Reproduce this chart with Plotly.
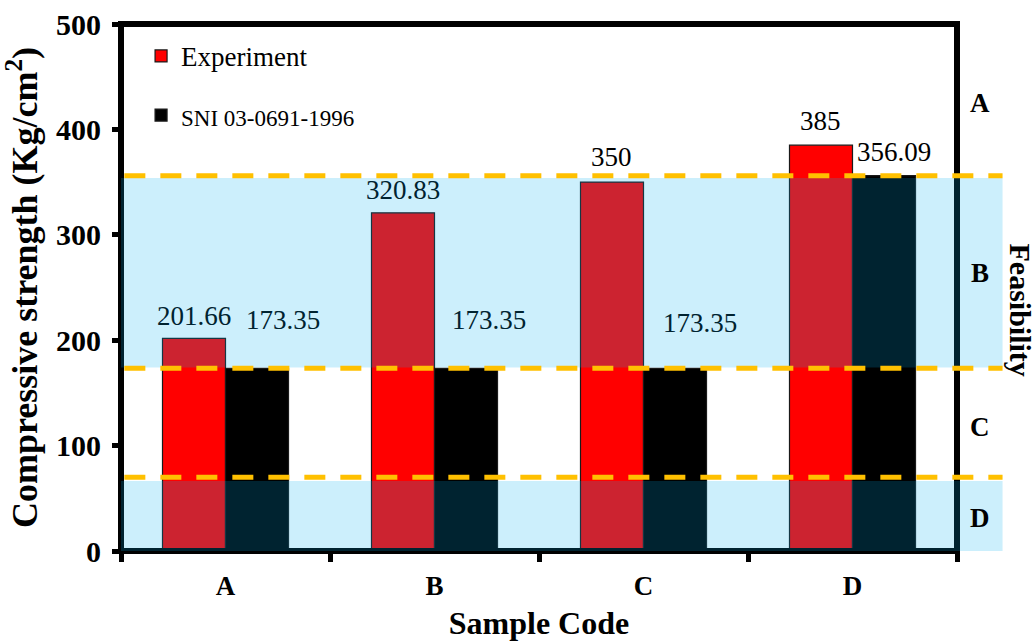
import plotly.graph_objects as go

# ---- data ----
categories = ["A", "B", "C", "D"]
experiment = [201.66, 320.83, 350, 385]
sni = [173.35, 173.35, 173.35, 356.09]
y_ticks = [0, 100, 200, 300, 400, 500]

# feasibility classes shown on the right-hand side
class_names = ["A", "B", "C", "D"]
class_label_y = [425, 264, 118, 31]
class_limits = [70, 173.35, 356.09]          # dashed class boundaries
shaded_lo = [0, 174]                          # shaded class bands (D, B)
shaded_hi = [66.5, 354]

# ---- styling ----
FONT = "Liberation Serif, Times New Roman, serif"
BAND_RGB = (0, 176, 240)
BAND_ALPHA = 0.2
BARGAP = 0.397
# value-label offsets (px): horizontal shift and height of label centre above bar top
exp_dx = [0, 0, 0, 0]
exp_dy = [22, 23, 25, 24]
sni_dx = [26, 23, 25, 10]
sni_dy = [48, 48, 45, 24]


def band_text_colour(v):
    """Text sitting under a shaded band picks up its tint."""
    for lo, hi in zip(shaded_lo, shaded_hi):
        if lo <= v <= hi:
            r, g, b = (int(round(c * BAND_ALPHA)) for c in BAND_RGB)
            return f"rgb({r},{g},{b})"
    return "#000000"


fig = go.Figure()
fig.add_trace(go.Bar(
    x=categories, y=experiment, name="Experiment", legendgroup="exp",
    marker=dict(color="#FF0000", line=dict(color="#1a1a1a", width=1.2)),
))
fig.add_trace(go.Bar(
    x=categories, y=sni, name="<span style='font-size:23px'>SNI 03-0691-1996</span>",
    legendgroup="sni",
    marker=dict(color="#000000", line=dict(color="#1a1a1a", width=1.2)),
))

shapes = []
# plot frame
shapes.append(dict(type="rect", xref="paper", yref="paper", x0=0, x1=1, y0=0, y1=1,
                   line=dict(color="black", width=6), layer="above"))
# shaded feasibility bands
for lo, hi in zip(shaded_lo, shaded_hi):
    shapes.append(dict(type="rect", xref="paper", yref="y", x0=0, x1=1.0545, y0=lo, y1=hi,
                       fillcolor=f"rgba({BAND_RGB[0]},{BAND_RGB[1]},{BAND_RGB[2]},{BAND_ALPHA})",
                       line=dict(width=0), layer="above"))
# dashed class limits
for v in class_limits:
    shapes.append(dict(type="line", xref="paper", yref="y", x0=0.004, x1=1.0545, y0=v, y1=v,
                       line=dict(color="#FFC000", width=5, dash="21px,15px"), layer="above"))

annotations = []
half = (1 - BARGAP) / 4.0
for i, v in enumerate(experiment):
    annotations.append(dict(x=i - half, y=v, xref="x", yref="y", text=f"{v:g}", showarrow=False,
                            xanchor="center", yanchor="middle", xshift=exp_dx[i], yshift=exp_dy[i],
                            font=dict(family=FONT, size=27,
                                      color=band_text_colour(v + exp_dy[i] / 1.054))))
for i, v in enumerate(sni):
    annotations.append(dict(x=i + half, y=v, xref="x", yref="y", text=f"{v:g}", showarrow=False,
                            xanchor="center", yanchor="middle", xshift=sni_dx[i], yshift=sni_dy[i],
                            font=dict(family=FONT, size=27,
                                      color=band_text_colour(v + sni_dy[i] / 1.054))))
for name, yv in zip(class_names, class_label_y):
    annotations.append(dict(x=1.0275, y=yv, xref="paper", yref="y", text=name, showarrow=False,
                            xanchor="center", yanchor="middle",
                            font=dict(family=FONT, size=27, color="black", weight="bold")))
annotations.append(dict(x=1.0755, y=0.458, xref="paper", yref="paper", text="Feasibility",
                        showarrow=False, textangle=90, xanchor="center", yanchor="middle",
                        font=dict(family=FONT, size=30, color="black", weight="bold")))

fig.update_layout(
    width=1036, height=641,
    margin=dict(l=121, r=79, t=24, b=90),
    paper_bgcolor="white", plot_bgcolor="white",
    barmode="group", bargap=BARGAP, bargroupgap=0,
    shapes=shapes, annotations=annotations,
    font=dict(family=FONT, color="black"),
    showlegend=True,
    legend=dict(x=0.024, y=0.985, xanchor="left", yanchor="top",
                bgcolor="rgba(0,0,0,0)", borderwidth=0,
                font=dict(family=FONT, size=27, color="black"),
                tracegroupgap=21, traceorder="grouped"),
    xaxis=dict(
        automargin=False,
        showline=False, showgrid=False, zeroline=False,
        ticks="outside", tickson="boundaries", ticklen=10, tickwidth=5, tickcolor="black",
        ticklabelstandoff=16,
        tickfont=dict(family=FONT, size=27, color="black", weight="bold"),
        title=dict(text="Sample Code", standoff=16,
                   font=dict(family=FONT, size=32, color="black", weight="bold")),
    ),
    yaxis=dict(
        automargin=False,
        range=[0, 500], tickvals=y_ticks,
        showline=False, showgrid=False, zeroline=False,
        ticks="outside", ticklen=8, tickwidth=5, tickcolor="black",
        ticklabelstandoff=5,
        tickfont=dict(family=FONT, size=30, color="black", weight="bold"),
        title=dict(text="Compressive strength (Kg/cm<sup>2</sup>)", standoff=12,
                   font=dict(family=FONT, size=36, color="black", weight="bold")),
    ),
)

fig.write_html("out.html")
